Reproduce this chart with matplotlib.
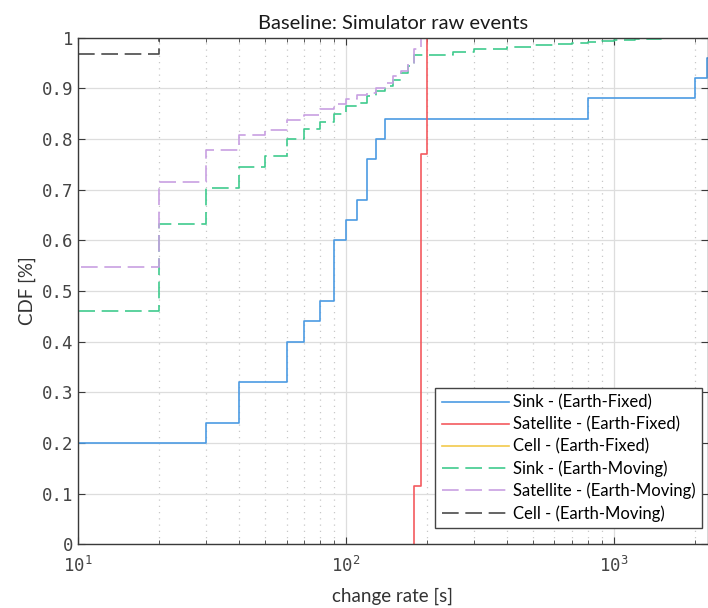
import matplotlib
matplotlib.use("Agg")
import matplotlib.pyplot as plt
from matplotlib.ticker import LogLocator, NullFormatter

plt.rcParams["mathtext.fontset"] = "custom"
plt.rcParams["mathtext.rm"] = "DejaVu Sans Mono"
plt.rcParams["mathtext.it"] = "DejaVu Sans Mono"

# --- data (step CDFs, value -> CDF after that value) ---
X_MAX = 2245

y_ticks = [0, 0.1, 0.2, 0.3, 0.4, 0.5, 0.6, 0.7, 0.8, 0.9, 1]
y_tick_labels = ["0", "0.1", "0.2", "0.3", "0.4", "0.5", "0.6", "0.7", "0.8", "0.9", "1"]

sink_fixed_x = [10, 10, 30, 40, 60, 70, 80, 90, 100, 110, 120, 130, 140, 800, 2000, 2220]
sink_fixed_y = [0, 0.20, 0.24, 0.32, 0.40, 0.44, 0.48, 0.60, 0.64, 0.68, 0.76, 0.80, 0.84, 0.88, 0.92, 0.96]

sat_fixed_x = [180, 180, 190, 200]
sat_fixed_y = [0, 0.115, 0.77, 1.0]

cell_fixed_x = [10]
cell_fixed_y = [1.0]

sink_moving_x = [10, 10, 20, 30, 40, 50, 60, 70, 80, 90, 100, 110, 120, 130, 140, 150,
                 160, 170, 180, 250, 300, 400, 500, 600, 700, 800, 900, 1000, 1200, 1500]
sink_moving_y = [0, 0.461, 0.632, 0.703, 0.744, 0.767, 0.800, 0.819, 0.833, 0.849, 0.866,
                 0.872, 0.884, 0.895, 0.905, 0.917, 0.930, 0.945, 0.966, 0.972, 0.977,
                 0.982, 0.986, 0.988, 0.990, 0.992, 0.993, 0.995, 0.997, 1.0]

sat_moving_x = [10, 10, 20, 30, 40, 50, 60, 70, 80, 90, 100, 110, 120, 130, 140, 150,
                160, 170, 180, 190]
sat_moving_y = [0, 0.548, 0.716, 0.778, 0.807, 0.818, 0.838, 0.848, 0.859, 0.870, 0.879,
                0.886, 0.890, 0.900, 0.910, 0.925, 0.935, 0.950, 0.978, 1.0]

cell_moving_x = [10, 10, 20]
cell_moving_y = [0, 0.967, 1.0]

series = [
    ("Sink - (Earth-Fixed)", sink_fixed_x, sink_fixed_y, "#4c9be3", "-"),
    ("Satellite - (Earth-Fixed)", sat_fixed_x, sat_fixed_y, "#f45a5f", "-"),
    ("Cell - (Earth-Fixed)", cell_fixed_x, cell_fixed_y, "#f2c94c", "-"),
    ("Sink - (Earth-Moving)", sink_moving_x, sink_moving_y, "#3fcb8d", "--"),
    ("Satellite - (Earth-Moving)", sat_moving_x, sat_moving_y, "#c8a0e2", "--"),
    ("Cell - (Earth-Moving)", cell_moving_x, cell_moving_y, "#4a4a4a", "--"),
]

fig = plt.figure(figsize=(7.08, 6.08), dpi=100)
ax = fig.add_axes([78 / 708, 63.7 / 608, 630 / 708, 506.6 / 608])

for label, xs, ys, color, ls in series:
    # extend last value to the right edge of the axes
    xx = list(xs) + [X_MAX * 1.01]
    yy = list(ys) + [ys[-1]]
    line, = ax.step(xx, yy, where="post", color=color, lw=1.2, label=label)
    if ls == "--":
        line.set_dashes((10, 4))

ax.set_xscale("log")
ax.set_xlim(10, X_MAX)
ax.set_ylim(0, 1)
ax.set_yticks(y_ticks)
ax.set_yticklabels(y_tick_labels)
ax.xaxis.set_major_locator(LogLocator(base=10))
ax.xaxis.set_minor_locator(LogLocator(base=10, subs=range(2, 10)))
ax.xaxis.set_minor_formatter(NullFormatter())

ax.grid(True, which="major", color="#dddddd", lw=0.9, ls="-")
ax.grid(True, which="minor", axis="x", color="#c8c8c8", lw=0.9, ls=(0, (1, 4)))
ax.set_axisbelow(True)

for sp in ax.spines.values():
    sp.set_color("#3a3a3a")
    sp.set_linewidth(1.0)

ax.tick_params(which="both", direction="in", top=True, right=True, colors="#3a3a3a",
               labelcolor="#444444", labelsize=12.5)
ax.tick_params(which="major", length=5)
ax.tick_params(which="minor", length=3)
for t in ax.get_yticklabels() + ax.get_xticklabels():
    t.set_family("DejaVu Sans Mono")
ax.tick_params(axis="x", pad=8)

ax.set_title("Baseline: Simulator raw events", family="Lato", fontsize=14.5,
             color="#1a1a1a", pad=6)
ax.set_xlabel("change rate [s]", family="Lato", fontsize=13.5, color="#333333", labelpad=9)
ax.set_ylabel("CDF [%]", family="Lato", fontsize=13.5, color="#333333", labelpad=4)

leg = ax.legend(loc="lower right", bbox_to_anchor=(0.9905, 0.0316), borderaxespad=0,
                prop={"family": "Lato", "size": 12}, handlelength=4.0,
                handletextpad=0.25, labelspacing=0.35, borderpad=0.4,
                fancybox=False, framealpha=1, edgecolor="#444444")
leg.get_frame().set_linewidth(1.0)

fig.savefig("out.png", dpi=100)
